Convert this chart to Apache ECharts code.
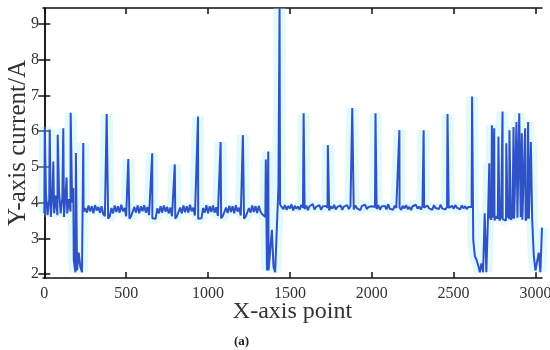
<!DOCTYPE html>
<html>
<head>
<meta charset="utf-8">
<script src="https://cdn.jsdelivr.net/npm/echarts@6/dist/echarts.min.js"></script>
<style>html,body{margin:0;padding:0;background:#fff;}#c{width:550px;height:350px;}</style>
</head>
<body>
<div id="c"></div>
<script>
// Baseline samples, one every 10 x-axis points, starting at x = 0
const segStart = [3.70,4.25,3.65,4.10,3.60,4.30,3.70,4.20,3.65,4.30,3.70,4.15,3.60,4.25,3.70,4.10,3.75,4.00,
  2.40,2.05,2.10,2.60,2.20,2.05,3.75];                                   // x 0..240
const segLowA = [3.85,3.72,3.92,3.75,3.90,3.70,3.93,3.78,3.88,3.72,3.90,3.68,3.62,
  3.58,3.55,3.62,3.85,3.70,3.92,3.74,3.90,3.72,3.94,3.76,3.85,3.62,3.60,
  3.55,3.62,3.58,3.88,3.72,3.92,3.70,3.90,3.76,3.93,3.72,3.88,3.65,3.60,
  3.56,3.60,3.55,3.84,3.70,3.90,3.72,3.92,3.75,3.88,3.70,3.86,3.62,3.60]; // x 250..790
const segLowB = [3.55,3.62,3.57,3.86,3.70,3.92,3.73,3.90,3.72,3.94,3.76,3.86,3.64,3.60,
  3.55,3.60,3.56,3.85,3.72,3.93,3.70,3.90,3.74,3.92,3.72,3.87,3.63,3.60,
  3.56,3.62,3.57,3.86,3.71,3.91,3.74,3.90,3.70,3.93,3.75,3.86,3.64,3.60,
  3.55,3.61,3.58,3.85,3.72,3.92,3.74,3.90,3.71,3.91,3.75,3.68,3.65];     // x 800..1340
const segDipMid = [3.60,2.10,2.10,2.15,3.24,2.20,2.05,2.10,4.44,3.95];  // x 1350..1440
const segHighA = [3.88,3.82,3.93,3.80,3.90,3.84,3.95,3.78,3.91,3.83,3.89,3.80,3.94,3.86,
  3.82,3.92,3.79,3.90,3.85,3.96,3.81,3.88,3.83,3.93,3.80,3.89,3.84,3.91,
  3.85,3.78,3.90,3.83,3.94,3.81,3.88,3.84,3.92,3.80,3.89,3.85,3.93,3.82,3.90,
  3.87,3.81,3.92,3.84,3.89,3.79,3.91,3.86,3.94,3.82,3.88,3.83,3.90,3.85]; // x 1450..2010
const segHighB = [3.88,3.82,3.93,3.80,3.89,3.84,3.91,3.81,3.95,3.83,3.88,3.80,3.92,3.85,3.89,
  3.86,3.80,3.91,3.84,3.93,3.82,3.88,3.79,3.90,3.85,3.94,3.83,3.89,3.81,3.90,
  3.86,3.82,3.92,3.84,3.88,3.80,3.93,3.85,3.90,3.82,3.94,3.84,3.89,3.81,3.88,
  3.85,3.80,3.91,3.83,3.93,3.86,3.89,3.81,3.92,3.84,3.90,3.82,3.88,3.85]; // x 2020..2600
const segEnd = [3.88,2.95,2.50,2.40,2.25,2.05,2.30,2.05,3.70,2.05,3.55,
  3.60,3.52,3.58,3.50,3.62,3.55,3.50,3.60,3.54,3.58,3.50,3.62,3.55,3.52,3.60,3.55,3.50,3.58,3.54,3.60,3.52,3.57,3.50,3.60,3.55,3.58,3.52,
  2.50,2.10,2.05,2.60,2.05,3.30];                                          // x 2610..3040

// Narrow current peaks [x-axis point, current/A]
const spikes = [[3,6.12],[33,6.05],[55,5.15],[82,5.90],[116,6.08],[136,4.70],[161,6.52],[177,4.41],
  [193,5.39],[238,5.67],[381,6.48],[513,5.22],[659,5.38],[797,5.07],[939,6.41],[1077,5.70],[1213,5.89],
  [1353,5.21],[1368,5.43],[1437,9.45],[1584,6.50],[1732,5.61],[1881,6.65],[2023,6.50],[2169,6.03],
  [2317,6.03],[2463,6.48],[2613,6.97],
  [2718,5.10],[2734,6.17],[2748,6.08],[2774,5.85],[2799,6.55],[2822,5.66],[2841,6.03],[2866,6.12],
  [2884,6.26],[2901,6.50],[2917,5.94],[2937,6.08],[2955,6.26],[2972,5.70]];

const xTicks = [0,500,1000,1500,2000,2500,3000];
const yTicks = [2,3,4,5,6,7,8,9];

const baseY = [].concat(segStart, segLowA, segLowB, segDipMid, segHighA, segHighB, segEnd);
const pts = baseY.map((v, i) => [i * 10, v]).concat(spikes);
pts.sort((a, b) => a[0] - b[0]);

const font = 'Liberation Serif';
const chart = echarts.init(document.getElementById('c'));
const xCommon = {type:'value', min:-8, max:3040, splitLine:{show:false},
  axisLine:{show:true, lineStyle:{color:'#111', width:1.5}}};
const yCommon = {type:'value', min:1.89, max:9.45, splitLine:{show:false},
  axisLine:{show:true, lineStyle:{color:'#111', width:1.5}}};
chart.setOption({
  animation:false,
  backgroundColor:'#fff',
  title:{text:'(a)', left:229, top:330, textStyle:{fontFamily:font, fontSize:13, fontWeight:'bold', color:'#222'}},
  grid:{left:43, right:8, top:8, bottom:72, containLabel:false, outerBoundsMode:'none'},
  xAxis:[
    Object.assign({}, xCommon, {position:'bottom', name:'X-axis point', nameLocation:'middle', nameGap:22,
      nameMoveOverlap:false,
      nameTextStyle:{fontFamily:font, fontSize:24, color:'#333'},
      axisTick:{inside:true, length:6, customValues:xTicks, lineStyle:{color:'#111', width:1.5}},
      axisLabel:{customValues:xTicks, fontFamily:font, fontSize:16, color:'#333', margin:8,
        formatter:(v) => String(v)}}),
    Object.assign({}, xCommon, {position:'top',
      axisTick:{inside:true, length:6, customValues:xTicks, lineStyle:{color:'#111', width:1.5}},
      axisLabel:{show:false}})
  ],
  yAxis:[
    Object.assign({}, yCommon, {position:'left', name:'Y-axis current/A', nameLocation:'middle', nameGap:12,
      nameMoveOverlap:false,
      nameTextStyle:{fontFamily:font, fontSize:25, color:'#333'},
      axisTick:{inside:true, length:6, customValues:yTicks, lineStyle:{color:'#111', width:1.5}},
      axisLabel:{customValues:yTicks, fontFamily:font, fontSize:16, color:'#333', margin:4,
        formatter:(v) => String(v)}}),
    Object.assign({}, yCommon, {position:'right',
      axisTick:{inside:true, length:6, customValues:yTicks, lineStyle:{color:'#111', width:1.5}},
      axisLabel:{show:false}})
  ],
  series:[{
    type:'line', data:pts, xAxisIndex:0, yAxisIndex:0, showSymbol:false, symbol:'none',
    sampling:null, clip:true, silent:true, z:1,
    lineStyle:{color:'rgba(175,240,250,0.35)', width:12}
  },{
    type:'line', data:pts, xAxisIndex:0, yAxisIndex:0, showSymbol:false, symbol:'none',
    sampling:null, clip:true, z:2,
    lineStyle:{color:'#2f52c9', width:2}
  }]
});
</script>
</body>
</html>
